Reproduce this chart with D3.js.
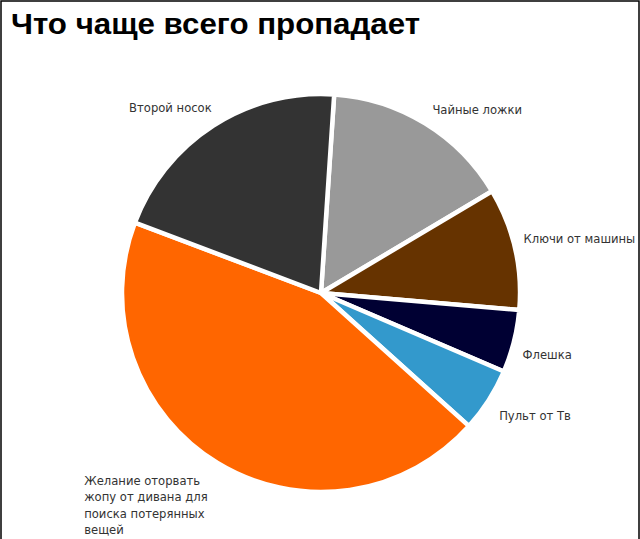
<!DOCTYPE html>
<html>
<head>
<meta charset="utf-8">
<script src="https://cdn.jsdelivr.net/npm/d3@7"></script>
<style>
  html, body { margin: 0; padding: 0; background: #fff; }
  svg { display: block; }
</style>
</head>
<body>
<svg id="chart" width="640" height="539"></svg>
<script>
// ---- data ----
const categories = [
  "Чайные ложки",
  "Ключи от машины",
  "Флешка",
  "Пульт от Тв",
  "Желание оторвать жопу от дивана для поиска потерянных вещей",
  "Второй носок"
];
const values = [15.4, 9.9, 5.1, 5.2, 44.1, 20.3];
const labelLines = [
  ["Чайные ложки"],
  ["Ключи от машины"],
  ["Флешка"],
  ["Пульт от Тв"],
  ["Желание оторвать", "жопу от дивана для", "поиска потерянных", "вещей"],
  ["Второй носок"]
];
const colors = ["#999999", "#663300", "#000033", "#3399cc", "#ff6600", "#333333"];
const titleText = "Что чаще всего пропадает";

// ---- layout ----
const W = 640, H = 539;
const cx = 321, cy = 293, R = 199;
const startDeg = 3.8;
const labelR = 215;
// label nudges [dx, dy, anchor]
const labelNudge = [
  [-1, 0, "start"],
  [-7, -6, "start"],
  [-7, 10, "start"],
  [-3, 7, "start"],
  [-125, 4, "start"],
  [7, -4, "end"]
];

const svg = d3.select("#chart");
svg.append("rect").attr("x", 0).attr("y", 0).attr("width", W).attr("height", H).attr("fill", "#fff");

svg.append("text")
  .attr("x", 11).attr("y", 34)
  .attr("font-family", "'Liberation Sans', Arial, sans-serif")
  .attr("font-size", 29.5)
  .attr("font-weight", "bold")
  .attr("fill", "#000")
  .attr("textLength", 409)
  .attr("lengthAdjust", "spacingAndGlyphs")
  .text(titleText);

const pie = d3.pie().sort(null).value(d => d)
  .startAngle(startDeg * Math.PI / 180)
  .endAngle(startDeg * Math.PI / 180 + 2 * Math.PI);
const arcs = pie(values);
const arc = d3.arc().innerRadius(0).outerRadius(R);
const labelArc = d3.arc().innerRadius(labelR).outerRadius(labelR);

const g = svg.append("g").attr("transform", `translate(${cx},${cy})`);
g.selectAll("path.slice").data(arcs).enter().append("path")
  .attr("class", "slice")
  .attr("d", arc)
  .attr("fill", (d, i) => colors[i])
  .attr("stroke", "#fff")
  .attr("stroke-width", 4.5)
  .attr("stroke-linejoin", "round");

const lab = g.selectAll("text.lab").data(arcs).enter().append("text")
  .attr("class", "lab")
  .attr("font-family", "'DejaVu Sans', Verdana, sans-serif")
  .attr("font-size", 11.6)
  .attr("fill", "#333")
  .attr("text-anchor", (d, i) => labelNudge[i][2])
  .attr("transform", (d, i) => {
    const c = labelArc.centroid(d);
    return `translate(${c[0] + labelNudge[i][0]},${c[1] + labelNudge[i][1]})`;
  });
lab.each(function(d, i) {
  const t = d3.select(this);
  labelLines[i].forEach((ln, k) => {
    t.append("tspan").attr("x", 0).attr("y", k * 16.5).attr("dy", "0.35em").text(ln);
  });
});

// frame
svg.append("path")
  .attr("d", `M1,${H + 5} L1,1 L${W - 1},1 L${W - 1},${H + 5}`)
  .attr("fill", "none").attr("stroke", "#000").attr("stroke-width", 1.5);
</script>
</body>
</html>
